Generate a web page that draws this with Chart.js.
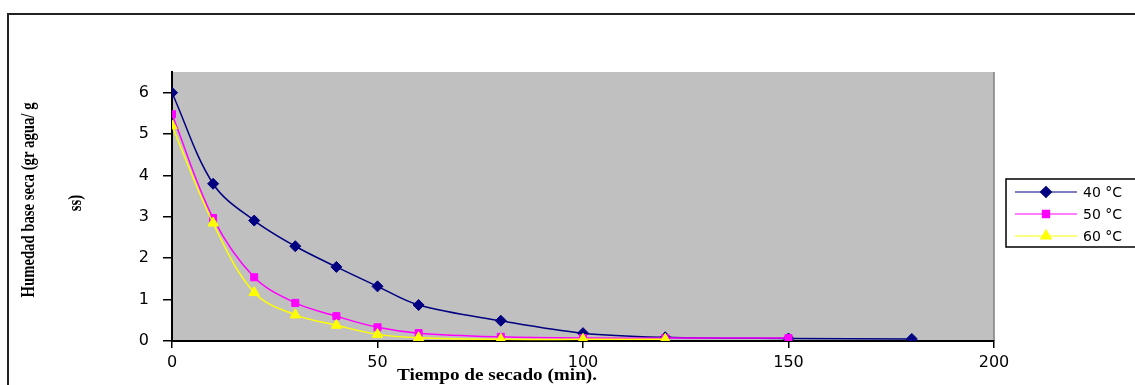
<!DOCTYPE html>
<html>
<head>
<meta charset="utf-8">
<script src="https://cdn.jsdelivr.net/npm/chart.js@4.4.0/dist/chart.umd.min.js"></script>
<style>
  html, body { margin: 0; padding: 0; background: #fff; }
  #wrap { width: 1135px; height: 385px; }
</style>
</head>
<body>
<div id="wrap"><canvas id="chart" width="1135" height="385"></canvas></div>
<script>
// Tiempo de secado (min) y humedad base seca por temperatura
const seriesLabels = ['40 °C', '50 °C', '60 °C'];
const time40 = [0, 10, 20, 30, 40, 50, 60, 80, 100, 120, 150, 180];
const hum40 = [6.0, 3.80, 2.91, 2.29, 1.79, 1.32, 0.87, 0.49, 0.19, 0.09, 0.06, 0.05];
const time50 = [0, 10, 20, 30, 40, 50, 60, 80, 100, 120, 150];
const hum50 = [5.48, 2.97, 1.54, 0.92, 0.60, 0.33, 0.19, 0.10, 0.07, 0.07, 0.07];
const time60 = [0, 10, 20, 30, 40, 50, 60, 80, 100, 120];
const hum60 = [5.2, 2.85, 1.17, 0.63, 0.38, 0.16, 0.08, 0.04, 0.04, 0.04];
const xTicks = [0, 50, 100, 150, 200];
const yTicks = [0, 1, 2, 3, 4, 5, 6];

const yTitle = ['Humedad base seca (gr agua/ g', 'ss)'];
const xTitle = 'Tiempo de secado (min).';

function toPoints(xs, ys) {
    return xs.map((x, i) => ({ x: x, y: ys[i] }));
}

const colors = ['#000080', '#ff00ff', '#ffff00'];
const markers = ['rectRot', 'rect', 'triangle'];
const markerSize = [5.5, 5, 6];

const frame = {
    id: 'frame',
    beforeDraw(chart) {
        const ctx = chart.ctx;
        const a = chart.chartArea;
        ctx.save();
        ctx.strokeStyle = '#222';
        ctx.lineWidth = 2;
        ctx.strokeRect(8, 14, 1300, 600);
        ctx.fillStyle = '#c0c0c0';
        ctx.fillRect(a.left, a.top, a.right - a.left, a.bottom - a.top);
        ctx.strokeStyle = '#808080';
        ctx.lineWidth = 1.5;
        ctx.beginPath();
        ctx.moveTo(a.right, a.top);
        ctx.lineTo(a.right, a.bottom);
        ctx.stroke();
        ctx.restore();
    },
    afterDraw(chart) {
        const ctx = chart.ctx;
        ctx.save();
        ctx.fillStyle = '#000';

        // titulo eje y, rotado
        ctx.font = 'bold 18px "Liberation Serif"';
        ctx.textAlign = 'center';
        ctx.textBaseline = 'alphabetic';
        const w0 = ctx.measureText(yTitle[0]).width;
        const sx = 195 / w0;
        [[yTitle[0], 34, 200], [yTitle[1], 81, 203]].forEach(([t, x, y]) => {
            ctx.save();
            ctx.translate(x, y);
            ctx.rotate(-Math.PI / 2);
            ctx.scale(sx, 1);
            ctx.fillText(t, 0, 0);
            ctx.restore();
        });

        // titulo eje x
        ctx.font = 'bold 16px "Liberation Serif"';
        const wx = ctx.measureText(xTitle).width;
        ctx.save();
        ctx.translate(497, 380);
        ctx.scale(200 / wx, 1);
        ctx.fillText(xTitle, 0, 0);
        ctx.restore();

        // leyenda
        ctx.strokeStyle = '#000';
        ctx.lineWidth = 1.5;
        ctx.strokeRect(1006, 179, 200, 68);
        ctx.font = '14px "DejaVu Sans"';
        ctx.textAlign = 'left';
        ctx.textBaseline = 'middle';
        const rows = [192, 214, 236];
        chart.data.datasets.forEach((ds, i) => {
            const y = rows[i];
            ctx.strokeStyle = ds.borderColor;
            ctx.fillStyle = ds.borderColor;
            ctx.lineWidth = 1.2;
            ctx.beginPath();
            ctx.moveTo(1015, y);
            ctx.lineTo(1077, y);
            ctx.stroke();
            Chart.helpers.drawPoint(ctx, {
                pointStyle: ds.pointStyle,
                radius: ds.pointRadius,
                rotation: 0,
                borderWidth: 1
            }, 1046, y);
            ctx.fillStyle = '#000';
            ctx.fillText(ds.label, 1083, y + 1);
        });
        ctx.restore();
    }
};

function makeSet(i, xs, ys) {
    return {
        label: seriesLabels[i],
        data: toPoints(xs, ys),
        showLine: true,
        tension: 0.35,
        borderColor: colors[i],
        backgroundColor: colors[i],
        borderWidth: 1.5,
        pointStyle: markers[i],
        pointRadius: markerSize[i],
        pointBorderWidth: 1,
        pointBorderColor: colors[i],
        pointBackgroundColor: colors[i],
        order: 3 - i
    };
}

new Chart(document.getElementById('chart'), {
    type: 'scatter',
    data: {
        datasets: [
            makeSet(0, time40, hum40),
            makeSet(1, time50, hum50),
            makeSet(2, time60, hum60)
        ]
    },
    options: {
        responsive: false,
        animation: false,
        layout: { padding: { top: 72, right: 141, left: 0, bottom: 0 } },
        plugins: {
            legend: { display: false },
            tooltip: { enabled: false }
        },
        scales: {
            x: {
                type: 'linear',
                min: 0,
                max: 200,
                afterBuildTicks: s => { s.ticks = xTicks.map(v => ({ value: v })); },
                afterFit: s => { s.height = 44; },
                border: { color: '#000', width: 2 },
                grid: { drawOnChartArea: false, color: '#000', tickLength: 7, lineWidth: 1.5 },
                ticks: {
                    color: '#000',
                    padding: 5,
                    maxRotation: 0,
                    font: { family: '"DejaVu Sans"', size: 16 }
                }
            },
            y: {
                min: 0,
                max: 6.5,
                afterBuildTicks: s => { s.ticks = yTicks.map(v => ({ value: v })); },
                afterFit: s => { s.width = 172; },
                border: { color: '#000', width: 2 },
                grid: { drawOnChartArea: false, color: '#000', tickLength: 9, lineWidth: 1.5 },
                ticks: {
                    color: '#000',
                    padding: 14,
                    font: { family: '"DejaVu Sans"', size: 16 }
                }
            }
        }
    },
    plugins: [frame]
});
</script>
</body>
</html>
